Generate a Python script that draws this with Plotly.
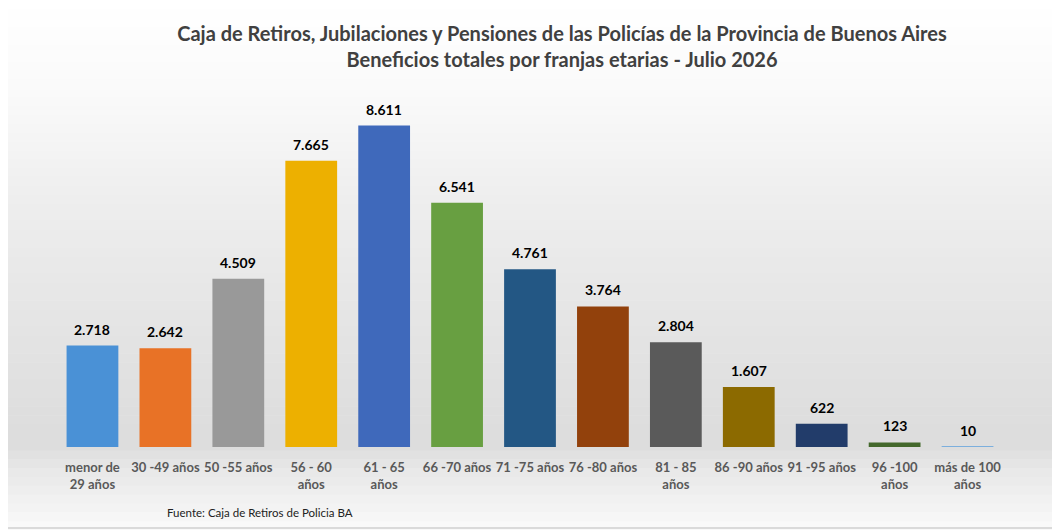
import plotly.graph_objects as go

# datos del grafico
franjas = ["menor de<br>29 años", "30 -49 años", "50 -55 años", "56 - 60<br>años",
           "61 - 65<br>años", "66 -70 años", "71 -75 años", "76 -80 años",
           "81 - 85<br>años", "86 -90 años", "91 -95 años", "96 -100<br>años",
           "más de 100<br>años"]
beneficios = [2718, 2642, 4509, 7665, 8611, 6541, 4761, 3764, 2804, 1607, 622, 123, 10]
colores = ["#4A91D6", "#E87226", "#999999", "#EDB000", "#3F69BB", "#689F41", "#235784",
           "#92410C", "#5A5A5A", "#8C6A00", "#223C6A", "#43682B", "#7CAFDD"]

# la pagina deja 8px de margen en el body, la figura se achica para compensar
OFF = 8
W, H = 1060 - OFF, 530 - OFF
top, bottom = 90 - OFF, 83
left, right = 55.5 - OFF, 55.5
plot_h = H - top - bottom
plot_w = W - left - right


def py_to_paper(py):
    # py en coordenadas de la pagina
    return (H - bottom - (py - OFF)) / plot_h


def px_to_paper(px):
    return (px - OFF - left) / plot_w


# fondo degradado (blanco arriba, gris claro abajo)
stops = [(0, 255), (90, 250), (200, 238), (330, 228), (445, 220), (470, 232), (530, 250)]
shapes = []
n = 60
for i in range(n):
    y0 = 530 * i / n
    y1 = 530 * (i + 1) / n
    ym = (y0 + y1) / 2
    for (a, ca), (b, cb) in zip(stops[:-1], stops[1:]):
        if a <= ym <= b:
            c = int(round(ca + (cb - ca) * (ym - a) / (b - a)))
            break
    shapes.append(dict(type="rect", xref="paper", yref="paper", layer="below",
                       x0=-0.1, x1=1.1, y0=py_to_paper(y1 + 0.5), y1=py_to_paper(y0),
                       fillcolor="rgb(%d,%d,%d)" % (c, c, c), line_width=0))
# borde derecho e inferior
shapes.append(dict(type="line", xref="paper", yref="paper", layer="above",
                   x0=px_to_paper(1057), x1=px_to_paper(1057),
                   y0=py_to_paper(529), y1=py_to_paper(0),
                   line=dict(color="#cfcfcf", width=1.5)))
shapes.append(dict(type="line", xref="paper", yref="paper", layer="above",
                   x0=px_to_paper(0), x1=px_to_paper(1059),
                   y0=py_to_paper(528), y1=py_to_paper(528),
                   line=dict(color="#cfcfcf", width=1.5)))

fig = go.Figure(go.Bar(
    x=franjas, y=beneficios, marker_color=colores, marker_line_width=0,
    hoverinfo="x+y",
))

# etiquetas de valor sobre las barras
annotations = []
for f, v in zip(franjas, beneficios):
    annotations.append(dict(x=f, y=v, xref="x", yref="y", text="<b>" + f"{v:,}".replace(",", ".") + "</b>",
                            showarrow=False, yanchor="bottom", yshift=6,
                            font=dict(family="Lato", size=14, color="#000000")))
annotations.append(dict(text="Fuente: Caja de Retiros de Policia BA", xref="paper", yref="paper",
                        x=px_to_paper(165), xanchor="left", y=py_to_paper(512), yanchor="middle",
                        showarrow=False, font=dict(family="Lato", size=11.5, color="#222222")))

max_y = plot_h / (321.5 / 8611)

fig.update_layout(
    width=W, height=H,
    margin=dict(l=left, r=right, t=top, b=bottom),
    paper_bgcolor="white", plot_bgcolor="rgba(0,0,0,0)",
    bargap=0.29,
    showlegend=False,
    font=dict(family="Lato"),
    title=dict(
        text="<b>Caja de Retiros, Jubilaciones y Pensiones de las Policías de la Provincia de Buenos Aires"
             "<br>Beneficios totales por franjas etarias - Julio 2026</b>",
        x=(562 - OFF) / W, xanchor="center", y=1 - (41 - OFF) / H, yanchor="middle",
        font=dict(family="Lato", size=20, color="#404040"),
    ),
    xaxis=dict(showgrid=False, showline=False, ticks="", tickangle=0, ticklabelstandoff=11,
               tickfont=dict(family="Lato", size=13, color="#595959", weight="bold")),
    yaxis=dict(range=[0, max_y], visible=False, showgrid=False),
    shapes=shapes,
    annotations=annotations,
)

fig.write_html("out.html")
